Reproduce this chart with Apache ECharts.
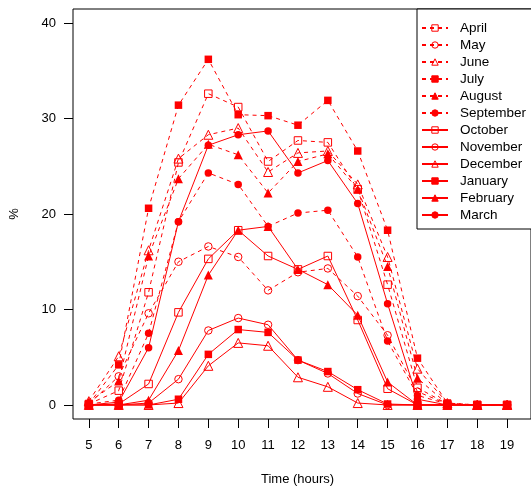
<!DOCTYPE html>
<html>
<head>
<meta charset="utf-8">
<script src="https://cdn.jsdelivr.net/npm/echarts@6/dist/echarts.min.js"></script>
<style>html,body{margin:0;padding:0;background:#fff}#c{width:531px;height:488px}</style>
</head>
<body>
<div id="c"></div>
<script>
var hours = [5,6,7,8,9,10,11,12,13,14,15,16,17,18,19];
var yTicks = [0,10,20,30,40];
var months = ['April','May','June','July','August','September','October','November','December','January','February','March'];
var april     = [0.1, 1.5, 11.8, 25.4, 32.6, 31.2, 25.5, 27.7, 27.5, 22.6, 12.6, 1.8, 0.1, 0, 0];
var may       = [0.1, 3.0, 9.6, 15.0, 16.6, 15.5, 12.0, 13.9, 14.3, 11.4, 7.3, 1.4, 0.1, 0, 0];
var june      = [0.4, 5.1, 16.2, 25.8, 28.3, 29.0, 24.4, 26.4, 26.6, 23.1, 15.5, 3.8, 0.2, 0, 0];
var july      = [0.1, 4.2, 20.6, 31.4, 36.2, 30.4, 30.3, 29.3, 31.9, 26.6, 18.3, 4.9, 0.2, 0, 0];
var august    = [0.3, 2.5, 15.6, 23.7, 27.3, 26.2, 22.2, 25.5, 26.3, 22.6, 14.5, 2.8, 0.1, 0, 0];
var september = [0.1, 0.5, 7.5, 19.2, 24.3, 23.1, 18.7, 20.1, 20.4, 15.5, 6.7, 1.0, 0.1, 0, 0];
var october   = [0, 0.1, 2.2, 9.7, 15.3, 18.3, 15.6, 14.2, 15.6, 8.9, 1.7, 0, 0, 0, 0];
var november  = [0, 0, 0.2, 2.7, 7.8, 9.1, 8.4, 4.7, 3.3, 1.2, 0, 0, 0, 0, 0];
var december  = [0, 0, 0, 0.2, 4.1, 6.5, 6.2, 2.9, 1.9, 0.2, 0, 0, 0, 0, 0];
var january   = [0, 0, 0, 0.6, 5.3, 7.9, 7.6, 4.7, 3.5, 1.6, 0.1, 0, 0, 0, 0];
var february  = [0, 0, 0.5, 5.7, 13.6, 18.3, 18.7, 14.2, 12.6, 9.4, 2.4, 0, 0, 0, 0];
var march     = [0, 0.3, 6.0, 19.2, 27.2, 28.3, 28.7, 24.3, 25.6, 21.1, 10.6, 0.6, 0, 0, 0];

var values = [april, may, june, july, august, september, october, november, december, january, february, march];
var shapes = ['rect','circle','triangle','rect','triangle','circle','rect','circle','triangle','rect','triangle','circle'];
var hollow = [true,true,true,false,false,false,true,true,true,false,false,false];
var dashed = [true,true,true,true,true,true,false,false,false,false,false,false];

var RED = '#ff0000';
var FONT = 'Liberation Sans, Arial, sans-serif';
var series = months.map(function(m, i){
  return {
    name: m,
    type: 'line',
    data: hours.map(function(h, j){ return [h, values[i][j]]; }),
    symbol: shapes[i],
    symbolSize: shapes[i] === 'triangle' ? 9 : 7.5,
    showSymbol: true,
    showAllSymbol: true,
    lineStyle: { color: RED, width: 1, type: dashed[i] ? [4,4] : 'solid' },
    itemStyle: hollow[i]
      ? { color: 'rgba(255,255,255,0)', borderColor: RED, borderWidth: 1 }
      : { color: RED, borderColor: RED, borderWidth: 0 },
    emphasis: { disabled: true },
    z: 2 + i
  };
});

var chart = echarts.init(document.getElementById('c'), null, {renderer: 'canvas'});
chart.setOption({
  animation: false,
  backgroundColor: '#fff',
  textStyle: { fontFamily: FONT },
  grid: { left: 72, top: 9, right: -2, bottom: 69, show: true, borderColor: '#000', borderWidth: 1, backgroundColor: 'transparent' },
  xAxis: {
    type: 'value', min: 4.47, max: 19.8,
    axisLine: { show: false, onZero: false },
    axisTick: { show: true, length: 9, lineStyle: { color: '#000' }, customValues: hours },
    axisLabel: { margin: 20, fontSize: 13, color: '#000', customValues: hours, fontFamily: FONT },
    splitLine: { show: false }
  },
  yAxis: {
    type: 'value', min: -1.47, max: 41.47,
    name: '%', nameLocation: 'middle', nameGap: 52, nameRotate: 90,
    nameTextStyle: { fontSize: 13, color: '#000', fontFamily: FONT },
    axisLine: { show: false, onZero: false },
    axisTick: { show: true, length: 9, lineStyle: { color: '#000' }, customValues: yTicks },
    axisLabel: { margin: 17, fontSize: 13, color: '#000', customValues: yTicks, fontFamily: FONT },
    splitLine: { show: false }
  },
  graphic: [{
    type: 'text', left: 298 - 37, top: 473,
    style: { text: 'Time (hours)', fill: '#000', font: '13px "Liberation Sans", Arial, sans-serif' }
  }],
  legend: {
    orient: 'vertical', left: 417, top: 9,
    padding: [10.5, 14, 5.5, 4],
    itemWidth: 26, itemHeight: 8, itemGap: 0,
    borderColor: '#000', borderWidth: 1, backgroundColor: '#fff',
    selectedMode: false,
    itemStyle: { borderWidth: 1 },
    textStyle: { fontSize: 13.5, color: '#000', lineHeight: 17, padding: [0,0,0,7], fontFamily: FONT },
    data: months
  },
  series: series
});
</script>
</body>
</html>
